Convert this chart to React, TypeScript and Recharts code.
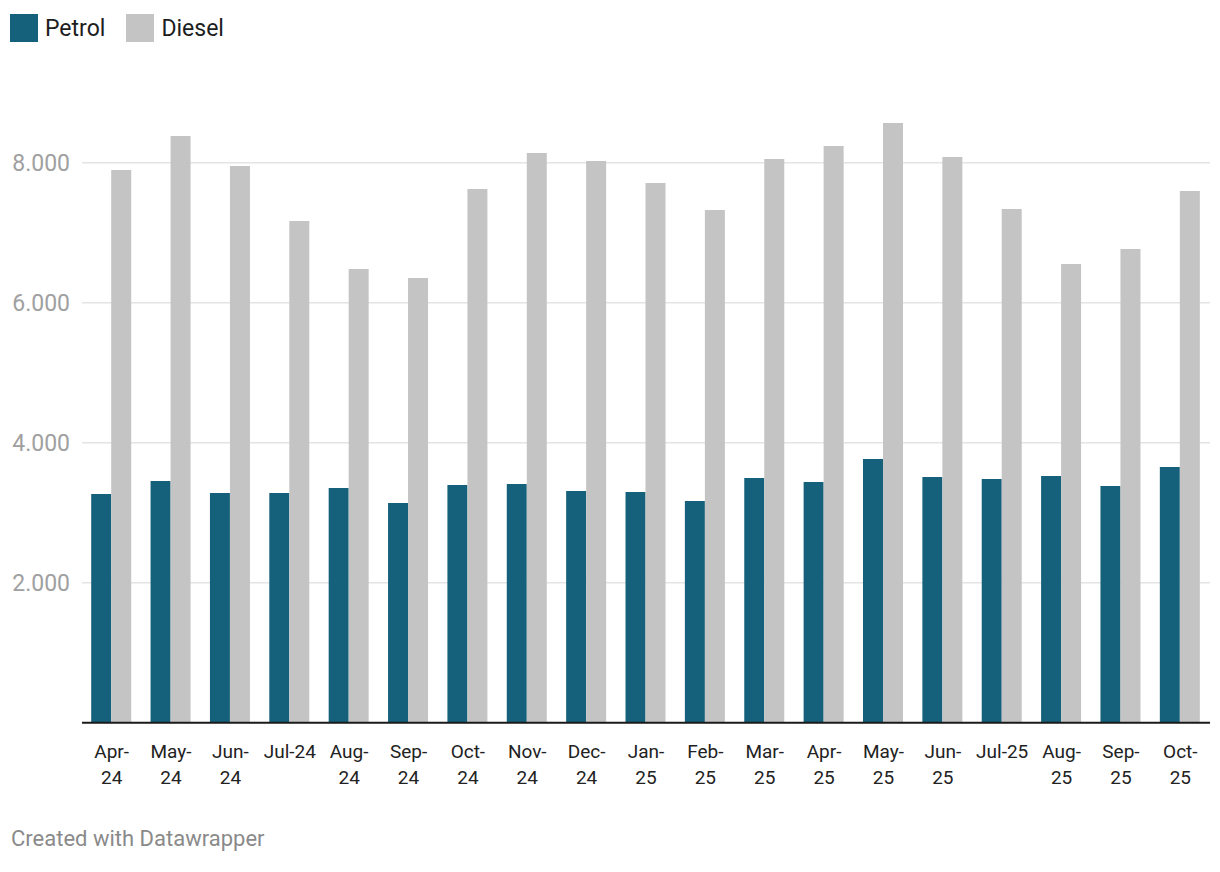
import { BarChart, Bar, XAxis, YAxis, CartesianGrid } from 'recharts'

const months = [
  'Apr-24', 'May-24', 'Jun-24', 'Jul-24', 'Aug-24', 'Sep-24', 'Oct-24', 'Nov-24', 'Dec-24',
  'Jan-25', 'Feb-25', 'Mar-25', 'Apr-25', 'May-25', 'Jun-25', 'Jul-25', 'Aug-25', 'Sep-25', 'Oct-25',
]
const petrol = [
  3267, 3453, 3281, 3281, 3353, 3139, 3396, 3410, 3310,
  3296, 3167, 3496, 3439, 3767, 3510, 3481, 3524, 3381, 3653,
]
const diesel = [
  7896, 8381, 7953, 7167, 6481, 6353, 7624, 8139, 8024,
  7710, 7324, 8053, 8239, 8567, 8081, 7339, 6553, 6767, 7596,
]
const yTicks = [2000, 4000, 6000, 8000]

const PETROL = '#15607a'
const DIESEL = '#c4c4c4'
const FONT = 'Roboto, "Noto Sans", sans-serif'

const data = months.map((m, i) => ({ month: m, petrol: petrol[i], diesel: diesel[i] }))

const fmt = (v: number) => String(v).replace(/\B(?=(\d{3})+(?!\d))/g, '.')

let ctx: CanvasRenderingContext2D | null = null
function textWidth(s: string) {
  if (!ctx) ctx = document.createElement('canvas').getContext('2d')
  if (!ctx) return s.length * 9
  ctx.font = `19px ${FONT}`
  return ctx.measureText(s).width
}

// datawrapper wraps long labels after the dash
function MonthTick(props: any) {
  const { x, y, payload } = props
  const label: string = payload.value
  const cut = label.indexOf('-') + 1
  const lines = textWidth(label) > 54 ? [label.slice(0, cut), label.slice(cut)] : [label]
  return (
    <text x={x} y={y} textAnchor="middle" fill="#222" fontSize={19} fontFamily={FONT}>
      {lines.map((l, i) => (
        <tspan key={i} x={x} dy={i === 0 ? 35 : 26.6}>{l}</tspan>
      ))}
    </text>
  )
}

function LegendItem({ color, label }: { color: string; label: string }) {
  return (
    <div style={{ display: 'flex', alignItems: 'center', marginRight: 21 }}>
      <div style={{ width: 28, height: 28, background: color, marginRight: 7 }} />
      <span style={{ fontSize: 23, color: '#1d1d1d' }}>{label}</span>
    </div>
  )
}

export default function App() {
  return (
    <div style={{ position: 'absolute', left: 0, top: 0, width: 1220, height: 872, background: '#fff', fontFamily: FONT }}>
      <div style={{ position: 'absolute', left: 10, top: 14, display: 'flex' }}>
        <LegendItem color={PETROL} label="Petrol" />
        <LegendItem color={DIESEL} label="Diesel" />
      </div>
      <BarChart
        width={1220}
        height={872}
        data={data}
        margin={{ top: 92.7, right: 10, bottom: 69.3, left: 0 }}
        barCategoryGap="15.5%"
        barGap={0}
      >
        <CartesianGrid vertical={false} horizontalValues={yTicks} stroke="#e4e4e4" strokeWidth={1.6} />
        <XAxis
          dataKey="month"
          tick={<MonthTick />}
          tickLine={false}
          tickSize={0}
          tickMargin={0}
          axisLine={{ stroke: '#1a1a1a', strokeWidth: 2 }}
          interval={0}
          height={80}
        />
        <YAxis
          domain={[0, 9000]}
          ticks={yTicks}
          tickFormatter={fmt}
          axisLine={false}
          tickLine={false}
          tickSize={0}
          tickMargin={12}
          width={82}
          tick={{ fill: '#a0a0a0', fontSize: 23, fontFamily: FONT }}
        />
        <Bar dataKey="petrol" fill={PETROL} isAnimationActive={false} />
        <Bar dataKey="diesel" fill={DIESEL} isAnimationActive={false} />
      </BarChart>
      <div style={{ position: 'absolute', left: 11, top: 826, fontSize: 22, color: '#8a8a8a' }}>
        Created with Datawrapper
      </div>
    </div>
  )
}
